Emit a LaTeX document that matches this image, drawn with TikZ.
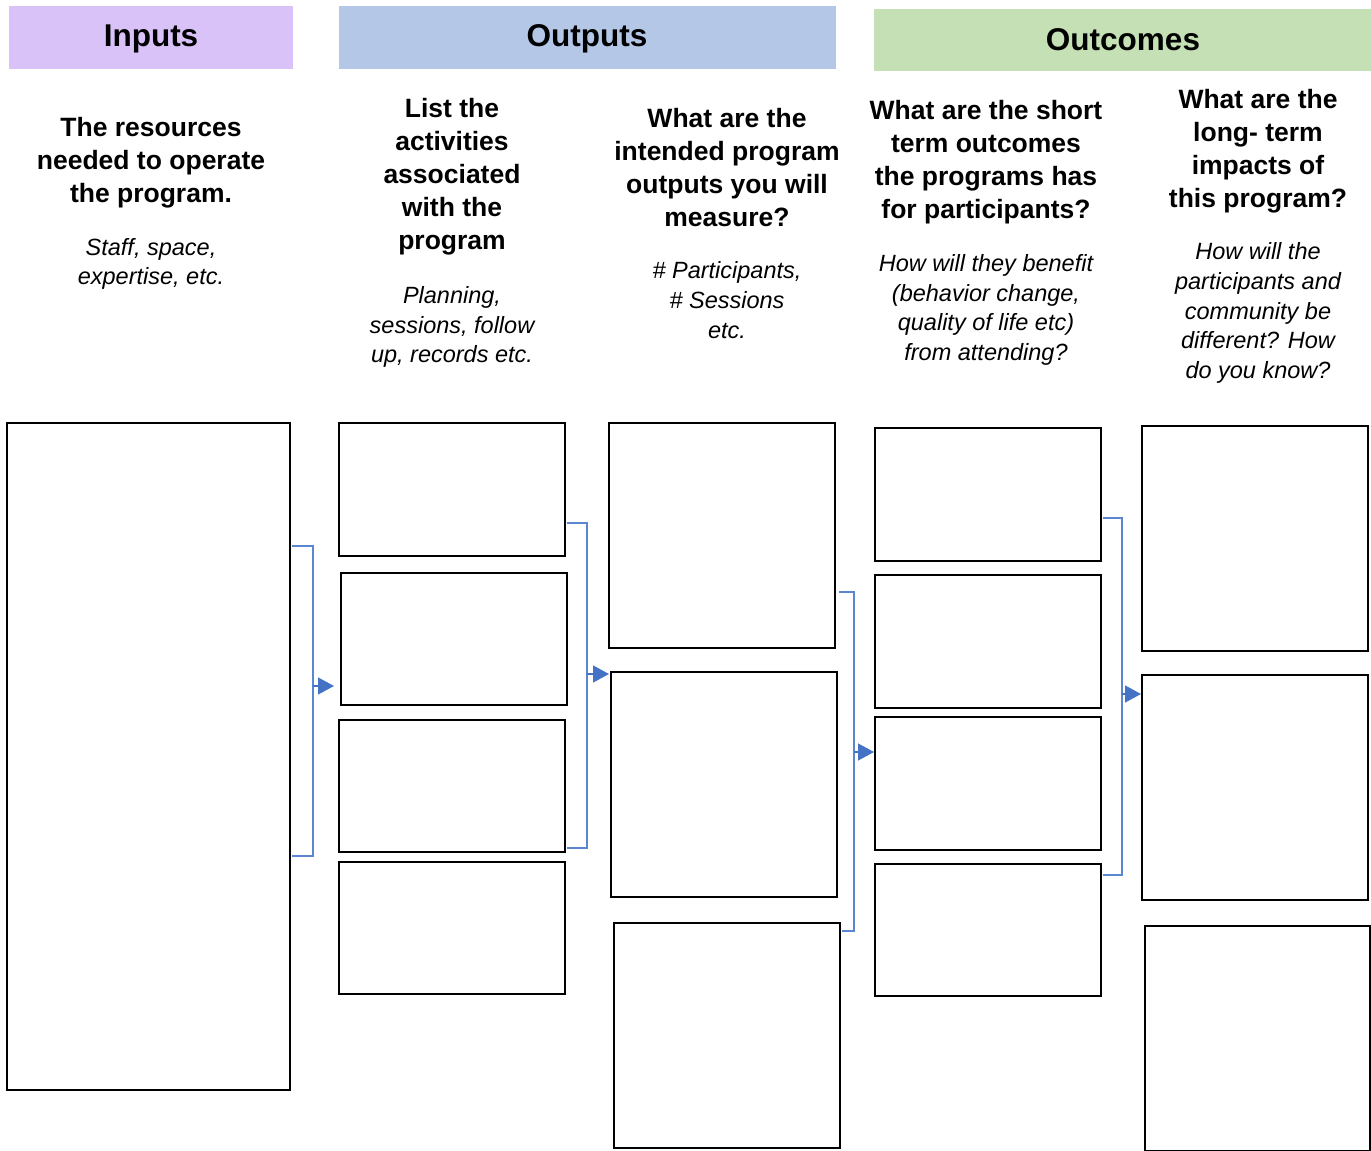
\documentclass[tikz,border=0pt]{standalone}
\usepackage{fontspec}
\setmainfont{Liberation Sans}
\usetikzlibrary{arrows.meta}
\definecolor{inpc}{HTML}{D9C2F8}
\definecolor{outc}{HTML}{B4C7E7}
\definecolor{ocmc}{HTML}{C5E0B4}
\definecolor{conc}{HTML}{4472C4}
\definecolor{conl}{HTML}{5B86D2}
\begin{document}
\begin{tikzpicture}[x=1pt,y=-1pt,
  hdr/.style={inner sep=0pt, font=\fontsize{31.5}{36}\selectfont\bfseries},
  qtext/.style={align=center, inner sep=0pt, font=\fontsize{26.5}{33}\selectfont\bfseries},
  itext/.style={align=center, inner sep=0pt, font=\fontsize{23.5}{29.8}\selectfont\itshape},
  cbox/.style={draw=black, line width=2pt, inner sep=0pt, minimum width=226pt},
  conn/.style={draw=conl, line width=1.3pt},
  arr/.style={draw=conc, line width=1.3pt, -{Triangle[length=16pt,width=17pt]}}
]
\useasboundingbox (0,0) rectangle (1371,1151);
% headers
\fill[inpc] (9,6) rectangle (293,69);
\fill[outc] (339,6) rectangle (836,69);
\fill[ocmc] (874,9) rectangle (1371,71);
\node[hdr] (hin) at (151,38.5) {Inputs};
\node[hdr] (hout) at (587,38.5) {Outputs};
\node[hdr] (hocm) at (1123,40) {Outcomes};
% question texts
\node[qtext] (q1) at (151,163) {The resources\\needed to operate\\the program.};
\node[itext] (i1) at (151,264) {Staff, space,\\expertise, etc.};
\node[qtext] (q2) at (452,176.5) {List the\\activities\\associated\\with the\\program};
\node[itext] (i2) at (452,327) {Planning,\\sessions, follow\\up, records etc.};
\node[qtext] (q3) at (727,168) {What are the\\intended program\\outputs you will\\measure?};
\node[itext] (i3) at (727,300) {\# Participants,\\\# Sessions\\etc.};
\node[qtext] (q4) at (986,162.5) {What are the short\\term outcomes\\the programs has\\for participants?};
\node[itext] (i4) at (986,310) {How will they benefit\\(behavior change,\\quality of life etc)\\from attending?};
\node[qtext] (q5) at (1258,151.5) {What are the\\long- term\\impacts of\\this program?};
\node[itext] (i5) at (1258,313) {How will the\\participants and\\community be\\different? How\\do you know?};
% boxes
\node[cbox, minimum width=283pt, minimum height=667pt] (in) at (148.5,756.5) {};
\node[cbox, minimum height=133pt] (a1) at (452,489.5) {};
\node[cbox, minimum height=132pt] (a2) at (454,639) {};
\node[cbox, minimum height=132pt] (a3) at (452,786) {};
\node[cbox, minimum height=132pt] (a4) at (452,928) {};
\node[cbox, minimum height=225pt] (o1) at (722,535.5) {};
\node[cbox, minimum height=225pt] (o2) at (724,784.5) {};
\node[cbox, minimum height=225pt] (o3) at (727,1035.5) {};
\node[cbox, minimum height=133pt] (s1) at (988,494.5) {};
\node[cbox, minimum height=133pt] (s2) at (988,641.5) {};
\node[cbox, minimum height=133pt] (s3) at (988,783.5) {};
\node[cbox, minimum height=132pt] (s4) at (988,930) {};
\node[cbox, minimum height=225pt] (l1) at (1255,538.5) {};
\node[cbox, minimum height=225pt] (l2) at (1255,787.5) {};
\node[cbox, minimum width=225pt, minimum height=225pt] (l3) at (1257.5,1038.5) {};
% connector coordinates
\coordinate (b1t) at ([xshift=1pt]in.east |- 0,546);
\coordinate (b1b) at ([xshift=1pt]in.east |- 0,856);
\coordinate (b1m) at (313,686);
\coordinate (b2t) at ([xshift=1pt]a1.east |- 0,523);
\coordinate (b2b) at ([xshift=1pt]a3.east |- 0,848);
\coordinate (b2m) at (587,674);
\coordinate (b3t) at ([xshift=3pt]o1.east |- 0,592);
\coordinate (b3b) at ([xshift=1pt]o3.east |- 0,931);
\coordinate (b3m) at (854,752);
\coordinate (b4t) at ([xshift=1pt]s1.east |- 0,518);
\coordinate (b4b) at ([xshift=1pt]s4.east |- 0,875);
\coordinate (b4m) at (1122,694);
% brackets
\draw[conn] (b1t) -| (b1m) |- (b1b);
\draw[arr, shorten >=6pt] (b1m) -- (b1m -| a2.west);
\draw[conn] (b2t) -| (b2m) |- (b2b);
\draw[arr, shorten >=1pt] (b2m) -- (b2m -| o2.west);
\draw[conn] (b3t) -| (b3m) |- (b3b);
\draw[arr] (b3m) -- (b3m -| s3.west);
\draw[conn] (b4t) -| (b4m) |- (b4b);
\draw[arr] (b4m) -- (b4m -| l2.west);
\end{tikzpicture}
\end{document}
